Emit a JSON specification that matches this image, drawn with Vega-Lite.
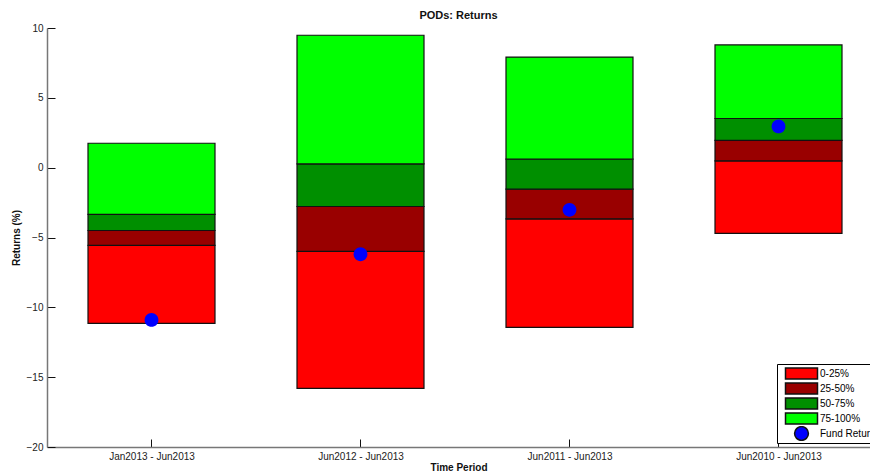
{
  "$schema": "https://vega.github.io/schema/vega-lite/v6.json",
  "width": 823,
  "height": 419,
  "autosize": {"type": "none"},
  "padding": {"left": 47, "top": 28, "right": 0, "bottom": 27},
  "background": "white",
  "title": {"text": "PODs: Returns", "font": "Liberation Sans", "fontSize": 11, "fontWeight": "bold", "color": "#111", "anchor": "middle", "offset": 9, "dy": 6.5},
  "config": {
    "view": {"stroke": null},
    "font": "Liberation Sans",
    "axis": {"grid": false, "domainColor": "#777", "domainWidth": 1.5, "tickColor": "#111", "tickWidth": 1, "tickSize": -8, "labelFont": "Liberation Sans", "labelFontSize": 10, "labelColor": "#222", "titleFont": "Liberation Sans", "titleFontSize": 10, "titleFontWeight": "bold", "titleColor": "#111"}
  },
  "datasets": {
    "bars": [
      {"idx": 1, "series": "0-25%", "lo": -11.15, "hi": -5.57},
      {"idx": 1, "series": "25-50%", "lo": -5.57, "hi": -4.5},
      {"idx": 1, "series": "50-75%", "lo": -4.5, "hi": -3.35},
      {"idx": 1, "series": "75-100%", "lo": -3.35, "hi": 1.75},
      {"idx": 2, "series": "0-25%", "lo": -15.8, "hi": -6.0},
      {"idx": 2, "series": "25-50%", "lo": -6.0, "hi": -2.78},
      {"idx": 2, "series": "50-75%", "lo": -2.78, "hi": 0.27},
      {"idx": 2, "series": "75-100%", "lo": 0.27, "hi": 9.48},
      {"idx": 3, "series": "0-25%", "lo": -11.44, "hi": -3.66},
      {"idx": 3, "series": "25-50%", "lo": -3.66, "hi": -1.54},
      {"idx": 3, "series": "50-75%", "lo": -1.54, "hi": 0.61},
      {"idx": 3, "series": "75-100%", "lo": 0.61, "hi": 7.92},
      {"idx": 4, "series": "0-25%", "lo": -4.7, "hi": 0.49},
      {"idx": 4, "series": "25-50%", "lo": 0.49, "hi": 1.95},
      {"idx": 4, "series": "50-75%", "lo": 1.95, "hi": 3.52},
      {"idx": 4, "series": "75-100%", "lo": 3.52, "hi": 8.79}
    ],
    "fund": [
      {"idx": 1, "series": "Fund Return", "ret": -10.9},
      {"idx": 2, "series": "Fund Return", "ret": -6.2},
      {"idx": 3, "series": "Fund Return", "ret": -3.02},
      {"idx": 4, "series": "Fund Return", "ret": 2.95}
    ]
  },
  "layer": [
    {
      "data": {"name": "bars"},
      "mark": {"type": "bar", "width": 127, "stroke": "#111", "strokeWidth": 1.2, "opacity": 1},
      "encoding": {
        "x": {"field": "idx", "type": "quantitative",
              "scale": {"domain": [0.5, 4.4378], "nice": false, "zero": false, "padding": 0},
              "axis": {"values": [1, 2, 3, 4], "labelExpr": "['Jan2013 - Jun2013','Jun2012 - Jun2013','Jun2011 - Jun2013','Jun2010 - Jun2013'][datum.value-1]", "title": "Time Period", "titlePadding": 1, "labelPadding": 12}},
        "y": {"field": "lo", "type": "quantitative",
              "scale": {"domain": [-20, 10], "nice": false, "zero": false, "padding": 0},
              "axis": {"values": [-20, -15, -10, -5, 0, 5, 10], "title": "Returns (%)", "titlePadding": 5, "labelPadding": 12}},
        "y2": {"field": "hi"},
        "color": {"field": "series", "type": "nominal",
                  "scale": {"domain": ["0-25%", "25-50%", "50-75%", "75-100%", "Fund Return"], "range": ["#ff0000", "#990000", "#008f00", "#00ff00", "#0000ff"]},
                  "legend": {"title": null, "orient": "none", "legendX": 730, "legendY": 336, "strokeColor": "#000", "fillColor": "white", "padding": 2, "labelFont": "Liberation Sans", "labelFontSize": 10, "labelColor": "#000", "symbolSize": 225, "symbolOffset": 14, "labelOffset": 10, "rowPadding": 0, "clipHeight": 15,
                    "encode": {"symbols": {"update": {"stroke": [{"test": "datum.value === 'Fund Return'", "value": "transparent"}, {"value": "#111"}], "strokeWidth": {"value": 1}, "opacity": {"value": 1}}}}}}
      }
    },
    {
      "data": {"name": "fund"},
      "mark": {"type": "point", "filled": true, "opacity": 1, "size": 225},
      "encoding": {
        "x": {"field": "idx", "type": "quantitative"},
        "y": {"field": "ret", "type": "quantitative"},
        "color": {"field": "series", "type": "nominal"},
        "shape": {"field": "series", "type": "nominal",
                  "scale": {"domain": ["0-25%", "25-50%", "50-75%", "75-100%", "Fund Return"],
                            "range": ["M-2.133,-0.733H2.133V0.733H-2.133Z", "M-2.133,-0.733H2.133V0.733H-2.133Z", "M-2.133,-0.733H2.133V0.733H-2.133Z", "M-2.133,-0.733H2.133V0.733H-2.133Z", "M-0.92,0A0.92,0.92,0,1,1,0.92,0A0.92,0.92,0,1,1,-0.92,0Z"]},
                  "legend": {"title": null, "orient": "none", "legendX": 730, "legendY": 336, "strokeColor": "#000", "fillColor": "white", "padding": 2, "labelFont": "Liberation Sans", "labelFontSize": 10, "labelColor": "#000", "symbolSize": 225, "symbolOffset": 14, "labelOffset": 10, "rowPadding": 0, "clipHeight": 15,
                    "encode": {"symbols": {"update": {"stroke": [{"test": "datum.value === 'Fund Return'", "value": "transparent"}, {"value": "#111"}], "strokeWidth": {"value": 1}, "opacity": {"value": 1}}}}}}
      }
    }
  ]
}
